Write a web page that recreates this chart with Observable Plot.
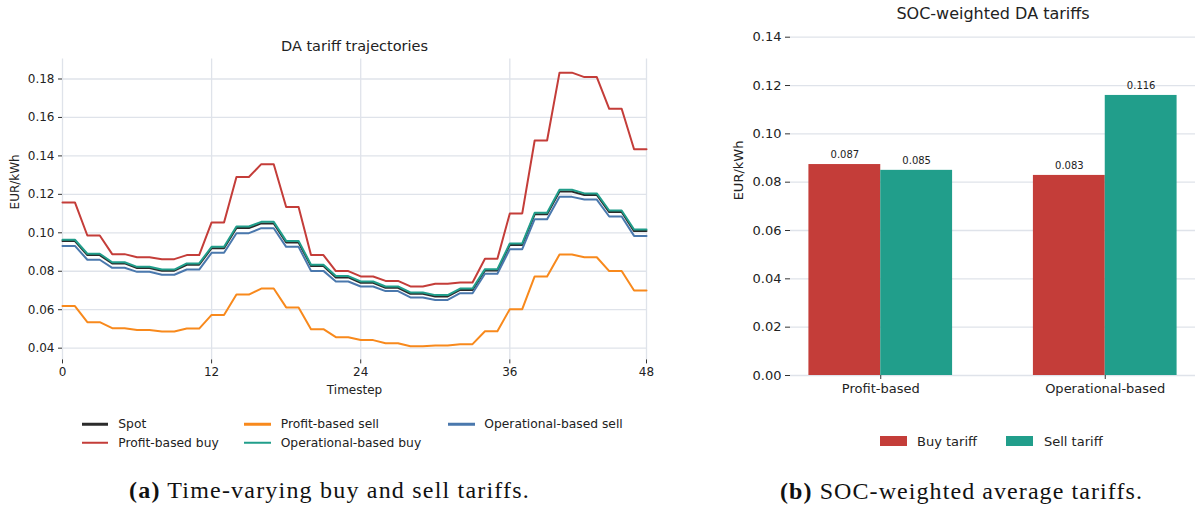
<!DOCTYPE html>
<html><head><meta charset="utf-8">
<script src="https://cdn.jsdelivr.net/npm/d3@7"></script>
<script src="https://cdn.jsdelivr.net/npm/@observablehq/plot@0.6"></script>
<style>
html,body{margin:0;padding:0;background:#fff}
body{width:1198px;height:506px;position:relative;overflow:hidden;font-family:"DejaVu Sans",sans-serif;color:#222}
.abs{position:absolute}
.leg{position:absolute;font-size:12.3px;line-height:1;white-space:nowrap;transform:translateY(-50%)}
.sw{position:absolute;height:2.5px;transform:translateY(-50%)}
.box{position:absolute;height:10px}
.rleg{position:absolute;font-size:13px;line-height:1;white-space:nowrap;transform:translateY(-50%)}
.cap{position:absolute;font-family:"Liberation Serif",serif;font-size:24px;line-height:1;white-space:nowrap;transform:translateY(-50%);color:#111}
</style></head><body>
<div id="left" class="abs" style="left:0;top:0"></div>
<div id="right" class="abs" style="left:700px;top:0"></div>
<div id="legL"></div>
<div id="legR"></div>
<div class="cap" id="capA" data-w="401" style="left:129px;top:490px"><b>(a)</b> Time-varying buy and sell tariffs.</div>
<div class="cap" id="capB" data-w="363" style="left:780px;top:491px"><b>(b)</b> SOC-weighted average tariffs.</div>
<script>
// ---- Left chart data: hourly values (each hour spans two timesteps) ----
const seriesNames = ["Spot", "Profit-based buy", "Profit-based sell", "Operational-based buy", "Operational-based sell"];
const seriesColors = ["#2b2b2b", "#c43d39", "#f8891c", "#219e8b", "#4a78ad"];
const spot       = [0.0957,0.0884,0.0841,0.0817,0.0803,0.0834,0.0920,0.1025,0.1049,0.0950,0.0827,0.0768,0.0740,0.0714,0.0683,0.0669,0.0703,0.0804,0.0937,0.1096,0.1215,0.1197,0.1108,0.1009];
const profitBuy  = [0.1158,0.0986,0.0889,0.0873,0.0863,0.0884,0.1054,0.1290,0.1357,0.1134,0.0884,0.0801,0.0773,0.0750,0.0721,0.0735,0.0742,0.0865,0.1101,0.1480,0.1833,0.1810,0.1645,0.1435];
const profitSell = [0.0619,0.0535,0.0504,0.0494,0.0487,0.0502,0.0573,0.0679,0.0710,0.0612,0.0499,0.0457,0.0442,0.0426,0.0410,0.0414,0.0421,0.0488,0.0603,0.0773,0.0887,0.0873,0.0801,0.0700];
const opBuy      = [0.0964,0.0891,0.0847,0.0823,0.0809,0.0841,0.0927,0.1033,0.1057,0.0958,0.0834,0.0775,0.0747,0.0721,0.0690,0.0676,0.0710,0.0811,0.0945,0.1104,0.1224,0.1205,0.1116,0.1017];
const opSell     = [0.0932,0.0860,0.0818,0.0797,0.0782,0.0809,0.0896,0.0998,0.1024,0.0927,0.0802,0.0747,0.0721,0.0697,0.0664,0.0651,0.0686,0.0787,0.0915,0.1071,0.1187,0.1173,0.1085,0.0984];
const xTickValues = [0, 12, 24, 36, 47];
const xTickLabels = ["0", "12", "24", "36", "48"];
const yTicksLeft = [0.04, 0.06, 0.08, 0.10, 0.12, 0.14, 0.16, 0.18];

// ---- Right chart data ----
const barCategories = ["Profit-based", "Operational-based"];
const barSeries = ["Buy tariff", "Sell tariff"];
const barColors = ["#c43d39", "#219e8b"];
const buyTariff = [0.0873, 0.0828];
const sellTariff = [0.0849, 0.1159];
const yTicksRight = [0, 0.02, 0.04, 0.06, 0.08, 0.10, 0.12, 0.14];

// build long table
const seriesValues = [spot, profitBuy, profitSell, opBuy, opSell];
const long = [];
seriesValues.forEach((vals, s) => {
  vals.forEach((v, h) => {
    long.push({name: seriesNames[s], t: 2 * h, v});
    long.push({name: seriesNames[s], t: 2 * h + 1, v});
  });
});
const xLabelMap = new Map(xTickValues.map((d, i) => [d, xTickLabels[i]]));
const gridStyle = {stroke: "#dfe3ea", strokeOpacity: 1, strokeWidth: 1.3};

const left = Plot.plot({
  width: 660, height: 400,
  marginLeft: 62, marginRight: 14, marginTop: 58.5, marginBottom: 40.6,
  style: {fontFamily: "DejaVu Sans", fontSize: "12px", color: "#222", background: "transparent"},
  x: {domain: [0, 47]},
  y: {domain: [0.0339, 0.1904]},
  color: {domain: seriesNames, range: seriesColors},
  marks: [
    Plot.gridY(yTicksLeft, gridStyle),
    Plot.gridX(xTickValues, gridStyle),
    Plot.axisY(yTicksLeft, {tickSize: 4, tickPadding: 4, tickFormat: d3.format(".2f"), label: null, stroke: "#333"}),
    Plot.axisX(xTickValues, {tickSize: 4, tickPadding: 4, tickFormat: d => xLabelMap.get(d), label: null, stroke: "#333"}),
    Plot.line(long, {x: "t", y: "v", z: "name", stroke: "name", strokeWidth: 2, strokeLinejoin: "round"}),
    Plot.text(["DA tariff trajectories"], {text: d => d, frameAnchor: "top", lineAnchor: "middle", dy: -12.5, fontSize: 14.5}),
    Plot.text(["Timestep"], {text: d => d, frameAnchor: "bottom", lineAnchor: "middle", dy: 30.6, fontSize: 12}),
    Plot.text(["EUR/kWh"], {text: d => d, frameAnchor: "left", lineAnchor: "middle", dx: -47, rotate: -90, fontSize: 12})
  ]
});
document.getElementById("left").appendChild(left);

// bars table
const bars = [];
barCategories.forEach((c, i) => {
  bars.push({cat: c, i, series: barSeries[0], value: buyTariff[i], side: -1});
  bars.push({cat: c, i, series: barSeries[1], value: sellTariff[i], side: 1});
});
const barW = 0.32;
const catMap = new Map(barCategories.map((c, i) => [i, c]));

const right = Plot.plot({
  width: 498, height: 400,
  marginLeft: 90, marginRight: 3, marginTop: 36.7, marginBottom: 25,
  style: {fontFamily: "DejaVu Sans", fontSize: "13px", color: "#222", background: "transparent"},
  x: {type: "linear", domain: [-0.402, 1.402]},
  y: {domain: [0, 0.14]},
  color: {domain: barSeries, range: barColors},
  marks: [
    Plot.gridY(yTicksRight, gridStyle),
    Plot.rectY(bars, {x1: d => d.side < 0 ? d.i - barW : d.i, x2: d => d.side < 0 ? d.i : d.i + barW, y1: 0, y2: "value", fill: "series"}),
    Plot.text(bars, {x: d => d.i + d.side * barW / 2, y: "value", text: d => d3.format(".3f")(d.value), dy: -10, fontSize: 10}),
    Plot.axisY(yTicksRight, {tickSize: 5, tickPadding: 4, tickFormat: d3.format(".2f"), label: null, stroke: "#333"}),
    Plot.axisX([0, 1], {tickSize: 4, tickPadding: 4, tickFormat: d => catMap.get(d), label: null, stroke: "#333"}),
    Plot.text(["SOC-weighted DA tariffs"], {text: d => d, frameAnchor: "top", lineAnchor: "middle", dy: -23.7, fontSize: 16}),
    Plot.text(["EUR/kWh"], {text: d => d, frameAnchor: "left", lineAnchor: "middle", dx: -52, dy: -6, rotate: -90, fontSize: 13})
  ]
});
document.getElementById("right").appendChild(right);

// left legend (3 columns, column-major)
const legL = document.getElementById("legL");
const colX = [[81.7, 118.3], [244.3, 280.7], [448.3, 484.3]];
const rowY = [424.3, 442.7];
seriesNames.forEach((n, k) => {
  const col = Math.floor(k / 2), row = k % 2;
  const sw = document.createElement("div");
  sw.className = "sw";
  sw.style.left = colX[col][0] + "px"; sw.style.top = rowY[row] + "px";
  sw.style.width = "26.7px"; sw.style.background = seriesColors[k];
  legL.appendChild(sw);
  const t = document.createElement("div");
  t.className = "leg"; t.textContent = n;
  t.style.left = colX[col][1] + "px"; t.style.top = rowY[row] + "px";
  legL.appendChild(t);
});
// right legend
const legR = document.getElementById("legR");
const rX = [[880, 917], [1006, 1044]];
barSeries.forEach((n, k) => {
  const b = document.createElement("div");
  b.className = "box";
  b.style.left = rX[k][0] + "px"; b.style.top = "436px"; b.style.width = "27px"; b.style.background = barColors[k];
  legR.appendChild(b);
  const t = document.createElement("div");
  t.className = "rleg"; t.textContent = n;
  t.style.left = rX[k][1] + "px"; t.style.top = "441px";
  legR.appendChild(t);
});
// fit captions to the reference widths via letter spacing
document.querySelectorAll(".cap").forEach(el => {
  const target = +el.dataset.w;
  const w = el.getBoundingClientRect().width;
  const n = el.textContent.length;
  el.style.letterSpacing = ((target - w) / n) + "px";
});
</script>
</body></html>
